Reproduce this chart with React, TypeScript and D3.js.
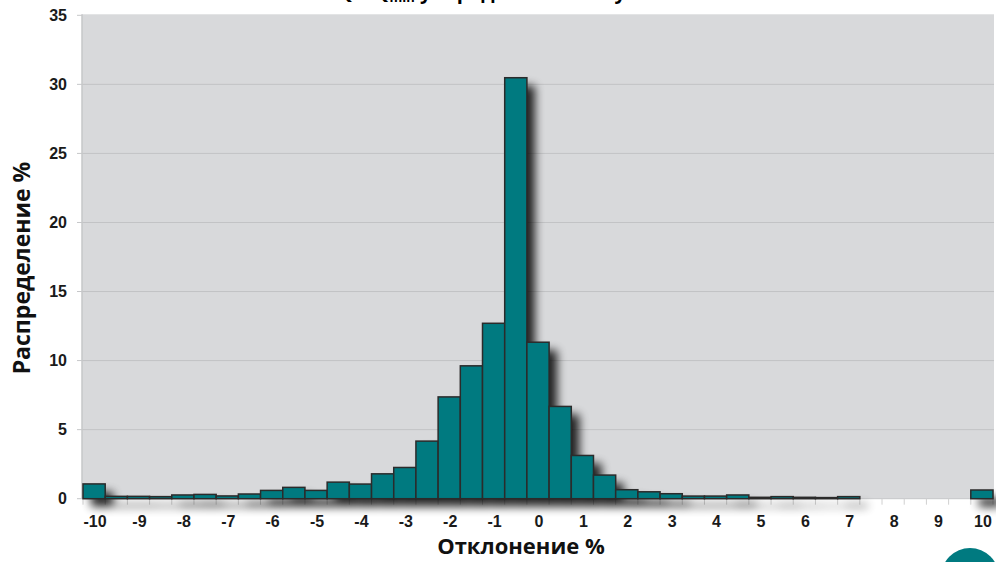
import React from 'react';
import * as d3 from 'd3';

const binCenters = [
  -10, -9.5, -9, -8.5, -8, -7.5, -7, -6.5, -6, -5.5, -5, -4.5, -4, -3.5, -3, -2.5, -2, -1.5, -1, -0.5,
  0, 0.5, 1, 1.5, 2, 2.5, 3, 3.5, 4, 4.5, 5, 5.5, 6, 6.5, 7, 7.5, 8, 8.5, 9, 9.5, 10,
];
const shares = [
  1.07, 0.17, 0.17, 0.15, 0.27, 0.31, 0.2, 0.34, 0.6, 0.82, 0.6, 1.2, 1.06, 1.8, 2.26, 4.17, 7.37, 9.62, 12.7, 30.48,
  11.33, 6.68, 3.13, 1.71, 0.65, 0.5, 0.36, 0.19, 0.19, 0.27, 0.1, 0.15, 0.1, 0.08, 0.15, 0, 0, 0, 0, 0, 0.63,
];
const xTicks = [-10, -9, -8, -7, -6, -5, -4, -3, -2, -1, 0, 1, 2, 3, 4, 5, 6, 7, 8, 9, 10];
const yTicks = [0, 5, 10, 15, 20, 25, 30, 35];

const W = 996;
const H = 562;
const left = 82;
const right = 994;
const top = 15.3;
const bottom = 498.7;

const App: React.FC = () => {
  const x = d3.scaleLinear().domain([-10.25, 10.25]).range([83, 993]);
  const y = d3.scaleLinear().domain([0, 35]).range([bottom, top]);
  const binW = x(0.5) - x(0);
  const edges = binCenters.map(c => c - 0.25).concat([10.25]);
  const labelFont = '"Liberation Sans", Arial, sans-serif';
  const titleFont = '"Open Sans", "Noto Sans", sans-serif';

  return (
    <svg width={W} height={H} style={{ position: 'absolute', left: 0, top: 0, background: '#fff' }}>
      <defs>
        <filter id="shadow" x="-50%" y="-50%" width="200%" height="200%">
          <feGaussianBlur in="SourceAlpha" stdDeviation="5" />
          <feOffset dx="8" dy="8" result="off" />
          <feComponentTransfer>
            <feFuncA type="linear" slope="0.85" />
          </feComponentTransfer>
        </filter>
      </defs>

      {/* title, mostly cut off at the top as in the source */}
      <text x={515} y={-1} textAnchor="middle" fontFamily={titleFont} fontWeight="bold" fontSize={20}>
        Q – Q<tspan fontSize={13} dy={3}>min</tspan><tspan dy={-3}> упорядочено по ступеням</tspan>
      </text>

      {/* plot background */}
      <rect x={left} y={top - 1} width={right - left} height={bottom - top + 1} fill="#d8d9db" />
      {yTicks.filter(t => t > 0 && t < 35).map(t => (
        <line key={t} x1={left} x2={right} y1={y(t)} y2={y(t)} stroke="#c2c3c5" strokeWidth={1} />
      ))}
      <line x1={left} x2={left} y1={top - 1} y2={bottom} stroke="#c6c7c9" strokeWidth={1.5} />
      {yTicks.map(t => (
        <line key={'yt' + t} x1={77} x2={left} y1={y(t)} y2={y(t)} stroke="#c6c7c9" strokeWidth={1} />
      ))}
      <line x1={left} x2={right} y1={bottom} y2={bottom} stroke="#c6c7c9" strokeWidth={1} />
      {edges.map((e, i) => (
        <line key={'xt' + i} x1={x(e)} x2={x(e)} y1={bottom} y2={bottom + 6} stroke="#d0d0d0" strokeWidth={1} />
      ))}

      {/* bar shadows */}
      <g filter="url(#shadow)">
        {binCenters.map((c, i) =>
          shares[i] > 0 ? (
            <rect key={'s' + i} x={x(c - 0.25)} y={y(shares[i])} width={binW} height={bottom - y(shares[i])} fill="#000" />
          ) : null
        )}
      </g>

      {/* bars */}
      {binCenters.map((c, i) =>
        shares[i] > 0 ? (
          <rect
            key={'b' + i}
            x={x(c - 0.25)}
            y={y(shares[i])}
            width={binW}
            height={bottom - y(shares[i])}
            fill="#007a80"
            stroke="#2b2b2b"
            strokeWidth={1.5}
          />
        ) : null
      )}

      {/* y tick labels */}
      {yTicks.map(t => (
        <text key={'yl' + t} x={67} y={y(t) + 5.5} textAnchor="end" fontFamily={labelFont} fontWeight="bold" fontSize={16} fill="#1a1a1a">
          {t}
        </text>
      ))}
      {/* x tick labels */}
      {xTicks.map(t => (
        <text key={'xl' + t} x={x(t) + 1} y={527} textAnchor="middle" fontFamily={labelFont} fontWeight="bold" fontSize={16} fill="#1a1a1a">
          {t}
        </text>
      ))}

      <text x={521} y={554} textAnchor="middle" fontFamily={titleFont} fontWeight="bold" fontSize={22} fill="#111">
        Отклонение %
      </text>
      <text
        transform="translate(30,268) rotate(-90)"
        textAnchor="middle"
        fontFamily={titleFont}
        fontWeight="bold"
        fontSize={23}
        fill="#111"
      >
        Распределение %
      </text>

      <circle cx={970} cy={577} r={29} fill="#007a80" />
    </svg>
  );
};

export default App;
